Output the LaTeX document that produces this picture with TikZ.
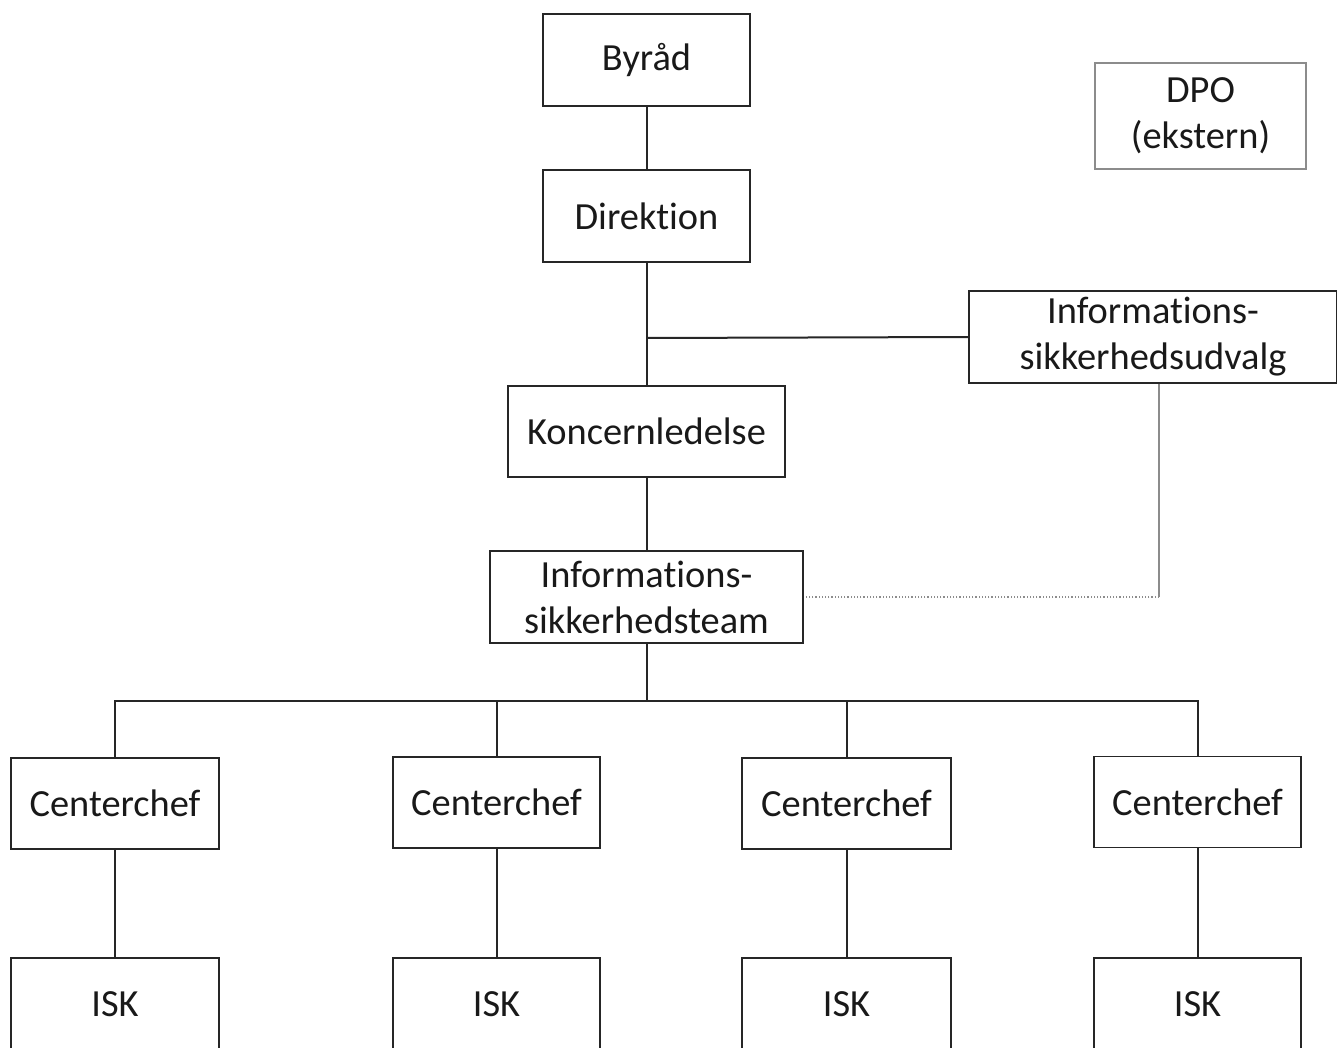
\documentclass[tikz,border=0pt]{standalone}
\usepackage{fontspec}
\setmainfont{Carlito}[Ligatures=CommonOff]
\usetikzlibrary{calc}
\begin{document}
\begin{tikzpicture}[x=0.5pt,y=-0.5pt,
  box/.style={draw=black!85, line width=0.9pt, rectangle, inner sep=0pt, align=center,
    font=\fontsize{19.2}{23}\selectfont, text=black!90},
  conn/.style={draw=black!85, line width=1pt},
  thinconn/.style={draw=black!45, line width=0.6pt}]
\useasboundingbox (0,0) rectangle (1337,1048);
\clip (0,0) rectangle (1337,1048);
\node[box, minimum width=103.5pt, minimum height=46pt] (byrad) at (646.5,60) {Byråd};
\node[box, draw=black!45, line width=0.6pt, minimum width=105.5pt, minimum height=53pt] (dpo) at (1200.5,116) {DPO\\(ekstern)};
\node[box, minimum width=103.5pt, minimum height=46pt] (direktion) at (646.5,216) {Direktion};
\node[box, minimum width=184pt, minimum height=46pt] (udvalg) at (1153,337) {Informations-\\sikkerhedsudvalg};
\node[box, minimum width=138.5pt, minimum height=45.5pt] (koncern) at (646.5,431.5) {Koncernledelse};
\node[box, minimum width=156.5pt, minimum height=46pt] (team) at (646.5,597) {Informations-\\sikkerhedsteam};
\node[box, minimum width=104pt, minimum height=45.5pt] (cc1) at (115,803.5) {Centerchef};
\node[box, minimum width=103.5pt, minimum height=45.5pt] (cc2) at (496.5,802.5) {Centerchef};
\node[box, minimum width=104.5pt, minimum height=45.5pt] (cc3) at (846.5,803.5) {Centerchef};
\node[box, minimum width=103.5pt, minimum height=45.5pt] (cc4) at (1197.5,802) {Centerchef};
\node[box, minimum width=104pt, minimum height=46pt] (isk1) at (115,1004) {ISK};
\node[box, minimum width=103.5pt, minimum height=46pt] (isk2) at (496.5,1004) {ISK};
\node[box, minimum width=104.5pt, minimum height=46pt] (isk3) at (846.5,1004) {ISK};
\node[box, minimum width=103.5pt, minimum height=46pt] (isk4) at (1197.5,1004) {ISK};
\coordinate (j1) at (646.5,338);
\coordinate (bus) at (646.5,701);
\coordinate (corner) at (1159,597);
\draw[conn] (byrad) -- (direktion);
\draw[conn] (direktion) -- (koncern);
\draw[conn] (j1) -- (udvalg.west);
\draw[conn] (koncern) -- (team);
\draw[conn] (team) -- (bus);
\draw[conn] (cc1.north) |- (bus);
\draw[conn] (cc2.north) |- (bus);
\draw[conn] (cc3.north) |- (bus);
\draw[conn] (cc4.north) |- (bus);
\draw[conn] (cc1) -- (isk1);
\draw[conn] (cc2) -- (isk2);
\draw[conn] (cc3) -- (isk3);
\draw[conn] (cc4) -- (isk4);
\draw[thinconn] (udvalg.south -| corner) -- (corner);
\draw[thinconn, densely dotted] (corner) -- (team.east);
\end{tikzpicture}
\end{document}
